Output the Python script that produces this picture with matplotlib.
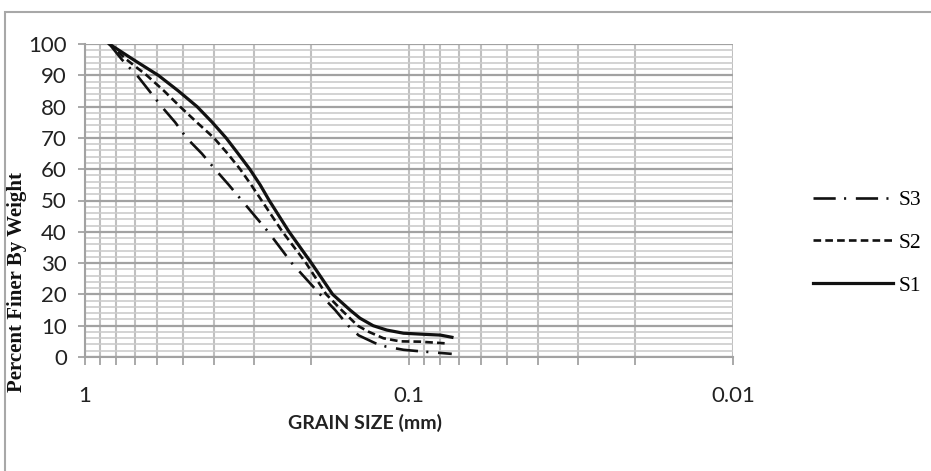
import numpy as np
import matplotlib
matplotlib.use("Agg")
import matplotlib.pyplot as plt
from matplotlib.ticker import FixedLocator, FixedFormatter, NullFormatter
from matplotlib.patches import Rectangle

# grain size (mm) vs percent finer
s1_size = [0.841, 0.709, 0.594, 0.515, 0.451, 0.405, 0.367, 0.337, 0.310, 0.288, 0.270, 0.2345, 0.200,
           0.172, 0.152, 0.1417, 0.129, 0.117, 0.104, 0.088, 0.080, 0.0737]
s1_pct = [100, 95, 90, 85, 80, 75, 70, 65, 60, 55, 50, 40, 30,
          20, 15, 12.4, 10, 8.6, 7.6, 7.2, 7.0, 6.3]

s2_size = [0.841, 0.744, 0.645, 0.570, 0.509, 0.452, 0.400, 0.363, 0.332, 0.307, 0.285, 0.2457, 0.2078,
           0.180, 0.1615, 0.144, 0.1334, 0.120, 0.1066, 0.0925, 0.0757]
s2_pct = [100, 95, 90, 85, 80, 75, 70, 65, 60, 55, 50, 40, 30,
          20, 15, 10, 8.1, 6.0, 5.0, 4.9, 4.3]

s3_size = [0.841, 0.769, 0.718, 0.691, 0.633, 0.580, 0.527, 0.486, 0.436, 0.397, 0.360, 0.328,
           0.272, 0.230, 0.188, 0.169, 0.154, 0.143, 0.127, 0.1175, 0.104, 0.092, 0.0738]
s3_pct = [100, 95, 91.7, 90, 85, 80, 75, 70, 65, 60, 55, 50,
          40, 30, 20, 15, 10, 6.9, 4.4, 3.3, 2.3, 1.8, 1.0]

x_ticks = [1, 0.1, 0.01]
x_tick_labels = ["1", "0.1", "0.01"]
y_ticks = list(range(0, 101, 10))

plt.rcParams['lines.scale_dashes'] = False

fig = plt.figure(figsize=(9.31, 4.71), dpi=100)
ax = fig.add_axes([85/931, 1-357/471, (733-85)/931, (357-44)/471])

ink = '#111111'
ax.plot(s1_size, s1_pct, color=ink, lw=2.3, ls='-', label='S1', solid_joinstyle='round')
ax.plot(s2_size, s2_pct, color=ink, lw=1.9, ls=(0, (5.5, 3)), label='S2')
ax.plot(s3_size, s3_pct, color=ink, lw=1.9, ls=(0, (16, 6, 1.5, 7)), label='S3')

ax.set_xscale('log')
ax.set_xlim(1, 0.01)
ax.set_ylim(0, 100)

minor = [m * d for d in (0.1, 0.01) for m in range(2, 10)]
ax.xaxis.set_major_locator(FixedLocator(x_ticks))
ax.xaxis.set_major_formatter(FixedFormatter(x_tick_labels))
ax.xaxis.set_minor_locator(FixedLocator(minor))
ax.xaxis.set_minor_formatter(NullFormatter())
ax.yaxis.set_major_locator(FixedLocator(y_ticks))
ax.yaxis.set_minor_locator(FixedLocator(list(range(2, 100, 2))))

ax.grid(which='major', axis='y', color='#a2a2a2', lw=1.6)
ax.grid(which='minor', axis='y', color='#cccccc', lw=1.2)
ax.grid(which='both', axis='x', color='#c0c0c0', lw=1.5)
ax.set_axisbelow(True)

for side in ('top', 'right'):
    ax.spines[side].set_visible(False)
for side in ('left', 'bottom'):
    ax.spines[side].set_color('#a2a2a2')
    ax.spines[side].set_linewidth(1.5)

tick_font = 'Lato'
ax.tick_params(axis='x', which='both', length=6, width=1.3, color='#a2a2a2', pad=15,
               labelsize=16, labelcolor='#222222')
ax.tick_params(axis='y', which='major', length=5, width=1.3, color='#a2a2a2', pad=8,
               labelsize=16, labelcolor='#222222')
ax.tick_params(axis='y', which='minor', length=0)
for lab in ax.get_xticklabels() + ax.get_yticklabels():
    lab.set_fontfamily(tick_font)

fig.text(365/931, 1-423/471, 'GRAIN SIZE (mm)', ha='center', va='center',
         fontsize=14, fontweight='bold', family=tick_font, color='#222222')
fig.text(17/931, 1-282/471, 'Percent Finer By Weight', rotation=90, ha='center', va='center',
         fontsize=15, fontweight='bold', family='Liberation Serif', color='#111111')

handles, labels = ax.get_legend_handles_labels()
leg = fig.legend(handles[::-1], labels[::-1], loc='center left',
                 bbox_to_anchor=(813/931, 1-243/471), frameon=False,
                 prop={'family': 'Liberation Serif', 'size': 15.5},
                 handlelength=3.7, handletextpad=0.3, labelspacing=1.05,
                 borderpad=0, borderaxespad=0)

# outer chart border
fig.add_artist(Rectangle((5/931, -0.05), 1.2, 1.05 - 12/471, transform=fig.transFigure,
                         fill=False, edgecolor='#a8a8a8', lw=1.5))

fig.savefig('out.png', dpi=100)
